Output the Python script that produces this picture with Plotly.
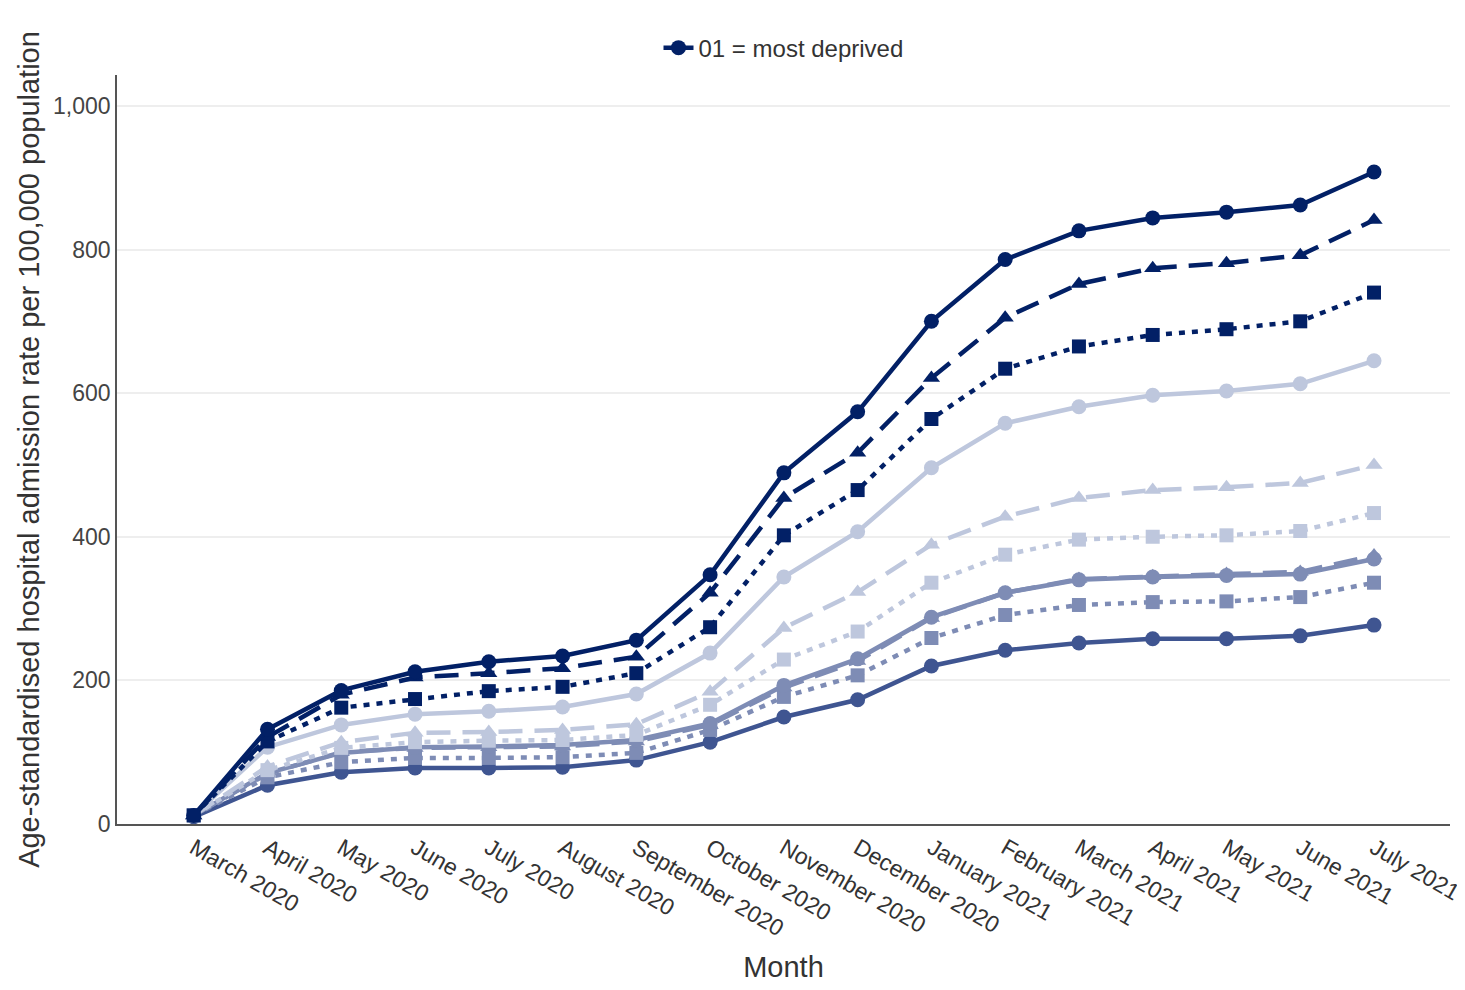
import plotly.graph_objects as go

months = ["March 2020", "April 2020", "May 2020", "June 2020", "July 2020", "August 2020",
          "September 2020", "October 2020", "November 2020", "December 2020", "January 2021",
          "February 2021", "March 2021", "April 2021", "May 2021", "June 2021", "July 2021"]

decile_names = ["01 = most deprived", "02", "03", "04", "05", "06", "07", "08", "09", "10 = least deprived"]

d01 = [12, 132, 186, 212, 226, 234, 256, 347, 489, 574, 700, 786, 826, 844, 852, 862, 908]
d02 = [12, 121, 180, 204, 210, 217, 233, 322, 454, 517, 621, 705, 752, 774, 781, 792, 841]
d03 = [12, 115, 162, 174, 185, 191, 210, 274, 402, 465, 564, 634, 665, 681, 689, 700, 740]
d04 = [12, 107, 138, 153, 157, 163, 181, 238, 344, 407, 496, 558, 581, 597, 603, 613, 645]
d05 = [12, 80, 114, 127, 128, 131, 139, 184, 273, 323, 389, 428, 454, 465, 469, 475, 500]
d06 = [12, 75, 106, 114, 116, 117, 124, 166, 229, 268, 336, 375, 396, 400, 402, 408, 433]
d07 = [12, 71, 99, 107, 108, 110, 117, 140, 193, 230, 288, 322, 340, 344, 346, 348, 369]
d08 = [12, 70, 100, 106, 107, 108, 115, 138, 190, 227, 287, 322, 341, 345, 348, 351, 374]
d09 = [12, 65, 86, 92, 92, 93, 99, 131, 177, 207, 259, 291, 305, 309, 310, 316, 336]
d10 = [10, 54, 72, 78, 78, 79, 89, 114, 149, 173, 220, 242, 252, 258, 258, 262, 277]

series = [d01, d02, d03, d04, d05, d06, d07, d08, d09, d10]

navy = "#022066"
light = "#bec7dd"
mid = "#7e8cb5"
darkmid = "#3f5591"
colors = [navy, navy, navy, light, light, light, mid, mid, mid, darkmid]
dash_dash = "24px,12px"
dash_dot = "6px,7px"
dashes = ["solid", dash_dash, dash_dot, "solid", dash_dash, dash_dot, "solid", dash_dash, dash_dot, "solid"]
symbols = ["circle", "triangle-up", "square", "circle", "triangle-up", "square",
           "circle", "triangle-up", "square", "circle"]
msizes = [15, 15, 14, 15, 15, 14, 15, 15, 14, 15]

x_idx = list(range(len(months)))

fig = go.Figure()
order = [9, 8, 7, 6, 5, 4, 3, 2, 1, 0]
for i in order:
    fig.add_trace(go.Scatter(
        x=x_idx, y=series[i], name=decile_names[i], mode="lines+markers",
        line=dict(color=colors[i], width=4.5, dash=dashes[i]),
        marker=dict(color=colors[i], size=msizes[i], symbol=symbols[i]),
        showlegend=(i == 0),
    ))

fig.update_layout(
    width=1457, height=982,
    paper_bgcolor="white", plot_bgcolor="white",
    margin=dict(l=109, r=15, t=67, b=166, autoexpand=False),
    font=dict(family="Liberation Sans, Arial, sans-serif", color="#444"),
    legend=dict(orientation="h", x=0.5, xanchor="center", y=1.036, yanchor="middle",
                font=dict(size=24, color="#333")),
    showlegend=True,
)
fig.update_xaxes(
    tickmode="array", tickvals=x_idx, ticktext=months, tickangle=30,
    range=[-1.04, 17.03], showgrid=False, showline=True, linecolor="#555", linewidth=1.5,
    ticks="", tickfont=dict(size=23, color="#333"),
    title=dict(text="Month", font=dict(size=29, color="#333"), standoff=17),
    automargin=False, zeroline=False,
)
fig.update_yaxes(
    range=[0, 1043], tickvals=[0, 200, 400, 600, 800, 1000], tickformat=",",
    showgrid=True, gridcolor="#eeeeee", gridwidth=1.5, showline=True, linecolor="#555", linewidth=1.5,
    ticks="", tickfont=dict(size=23, color="#444"), zeroline=False,
    title=dict(text="Age-standardised hospital admission rate per 100,000 population",
               font=dict(size=29, color="#333"), standoff=5),
    automargin=False,
)
fig.write_html("out.html")
